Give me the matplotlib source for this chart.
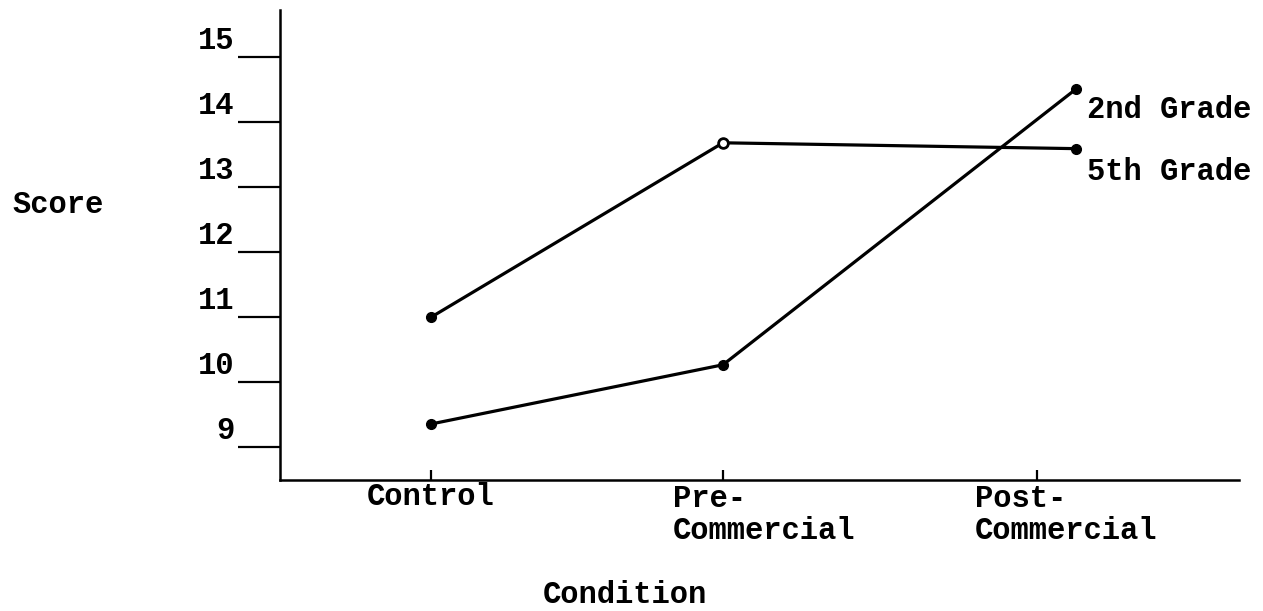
"""Typewritten line chart: mean score by condition for 2nd and 5th graders."""
import matplotlib
matplotlib.use("Agg")
import matplotlib.pyplot as plt
from matplotlib.transforms import blended_transform_factory

# ---------- data ----------
conditions = ["Control", "Pre-\nCommercial", "Post-\nCommercial"]
grade2 = [9.36, 10.27, 14.51]
grade5 = [11.0, 13.68, 13.59]
y_ticks = [9, 10, 11, 12, 13, 14, 15]

# positions on the condition axis (ticks and plotted points are a bit apart in the original)
tick_x = [0, 1, 2.075]
point_x = [0, 1, 2.21]

FONT = "Liberation Mono"
FS = 22

fig = plt.figure(figsize=(12.63, 6.11), dpi=100)
ax = fig.add_axes([280 / 1263, 1 - 480 / 611, (1239 - 280) / 1263, (480 - 10) / 611])
ax.set_xlim(-0.517, 2.767)
ax.set_ylim(8.50, 15.72)

for s in ["top", "right"]:
    ax.spines[s].set_visible(False)
for s in ["left", "bottom"]:
    ax.spines[s].set_linewidth(1.8)
    ax.spines[s].set_color("black")

# y ticks: long outward dashes, labels sit above-left of the dash
ax.set_yticks(y_ticks)
ax.tick_params(axis="y", direction="out", length=30, width=1.6, labelleft=False)
for v in y_ticks:
    ax.annotate(str(v), xy=(0, v), xycoords=("axes fraction", "data"),
                xytext=(-46, 16), textcoords="offset pixels", ha="right", va="center",
                fontsize=FS, family=FONT, fontweight="bold")

# x ticks: short marks pointing into the plot
ax.set_xticks(tick_x)
ax.tick_params(axis="x", direction="in", length=7, width=1.6, labelbottom=False)

# condition labels, left-aligned lines under each tick
trans = blended_transform_factory(ax.transData, fig.transFigure)
ax.text(tick_x[0], 1 - 505 / 611, conditions[0], transform=trans, ha="center",
        va="baseline", fontsize=FS, family=FONT, fontweight="bold")
for tx, lab, dx in [(tick_x[1], conditions[1], -50), (tick_x[2], conditions[2], -62)]:
    for i, line in enumerate(lab.split("\n")):
        ax.annotate(line, xy=(tx, 1 - (507 + 32 * i) / 611),
                    xycoords=("data", "figure fraction"), xytext=(dx, 0),
                    textcoords="offset pixels", ha="left", va="baseline",
                    fontsize=FS, family=FONT, fontweight="bold")

# lines
ax.plot(point_x, grade2, "-", color="black", lw=2.3, marker="o", ms=7, clip_on=False)
ax.plot(point_x, grade5, "-", color="black", lw=2.3, marker="o", ms=7, clip_on=False)
ax.plot(point_x[1], grade5[1], "o", ms=7, mfc="white", mec="black", mew=2, zorder=3)

ax.text(2.247, 14.19, "2nd Grade", ha="left", va="center", fontsize=FS, family=FONT,
        fontweight="bold", clip_on=False)
ax.text(2.247, 13.23, "5th Grade", ha="left", va="center", fontsize=FS, family=FONT,
        fontweight="bold", clip_on=False)

fig.text(12 / 1263, 1 - 213 / 611, "Score", ha="left", va="baseline", fontsize=FS,
         family=FONT, fontweight="bold")
fig.text(625 / 1263, 1 - 603 / 611, "Condition", ha="center", va="baseline", fontsize=FS,
         family=FONT, fontweight="bold")

fig.savefig("out.png", dpi=100)
